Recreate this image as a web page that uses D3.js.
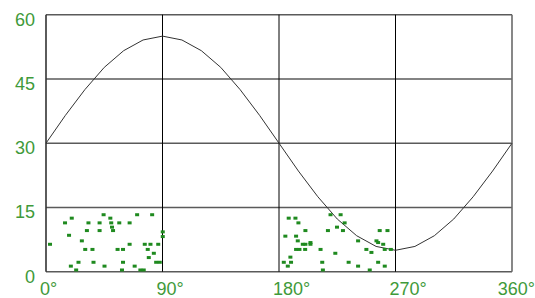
<!DOCTYPE html>
<html><head><meta charset="utf-8">
<script src="https://cdn.jsdelivr.net/npm/d3@7"></script>
<style>html,body{margin:0;padding:0;background:#fff;}svg{display:block;}</style>
</head><body>
<script>
// ---- data ----
const xTicks = [0, 90, 180, 270, 360];
const xTickLabels = ["0°", "90°", "180°", "270°", "360°"];
const yTicks = [0, 15, 30, 45, 60];
const yTickLabels = ["0", "15", "30", "45", "60"];

const curveDeg = [0,15,30,45,60,75,90,105,120,135,150,165,180,195,210,225,240,255,270,285,300,315,330,345,360];
const curveVal = [30,36.5,42.5,47.7,51.6,54.1,55,54.1,51.6,47.7,42.5,36.5,30,23.5,17.5,12.3,8.4,5.9,5,5.9,8.4,12.3,17.5,23.5,30];

const dotDeg = [3.1,14.7,19.9,17.8,27.7,30.3,35.9,32.8,31.6,41.4,41.4,44.5,49.7,50.4,51.0,51.8,56.6,64.6,70.4,82.0,55.3,59.5,64.6,76.3,80.7,78.6,86.7,83.3,79.4,85.1,87.9,90.2,90.2,19.2,25.1,23.3,36.7,45.2,59.5,58.7,68.5,72.9,75.5,
  187.5,192.7,195.0,184.9,193.2,194.5,200.4,198.4,200.4,204.3,204.3,193.2,195.8,200.2,188.8,183.7,189.3,186.8,212.1,223.5,213.4,213.9,233.8,241.1,219.8,227.6,230.7,217.8,224.8,229.4,241.1,257.8,263.8,255.3,256.6,260.5,247.5,261.7,266.4,251.4,256.6,261.7,250.1];
const dotVal = [6.4,11.4,12.5,8.5,7.2,5.2,5.2,11.4,9.6,11.4,9.6,13.3,12.5,11.4,10.4,9.6,11.4,11.4,13.3,13.3,5.2,5.2,6.4,6.4,6.4,5.2,6.4,4.3,3.3,2.2,2.2,9.3,8.2,1.3,2.2,0.4,2.2,1.3,2.2,0.4,1.3,0.4,0.4,
  12.5,12.5,11.4,8.3,8.3,7.2,9.6,6.4,6.4,6.8,6.4,5.2,5.2,5.2,3.4,2.2,2.2,1.3,5.2,4.3,2.2,0.4,2.2,1.3,13.3,13.3,11.4,9.6,10.4,9.6,7.2,9.6,9.6,7.2,6.8,6.4,5.2,5.2,5.2,4.5,2.2,1.3,0.4];

// ---- chart ----
const W = 535, H = 298;
const svg = d3.select("body").append("svg").attr("width", W).attr("height", H);
const x = d3.scaleLinear().domain([0, 360]).range([46, 512]);
const y = d3.scaleLinear().domain([0, 60]).range([271.7, 14.7]);
const green = "#3f9a3a";

// horizontal grid lines
svg.append("g").selectAll("line").data(yTicks).join("line")
  .attr("x1", x(0)).attr("x2", x(360))
  .attr("y1", d => y(d)).attr("y2", d => y(d))
  .attr("stroke", "#5a5a5a").attr("stroke-width", 1.6);

// vertical grid lines
svg.append("g").selectAll("line").data(xTicks).join("line")
  .attr("x1", d => x(d)).attr("x2", d => x(d))
  .attr("y1", y(0)).attr("y2", y(60))
  .attr("stroke", (d, i) => (i === 0 ? "#333" : (i === xTicks.length - 1 ? "#6a6a6a" : "#000")))
  .attr("stroke-width", (d, i) => (i === 0 || i === xTicks.length - 1) ? 1.6 : 1);

// curve
const line = d3.line().x(d => x(d[0])).y(d => y(d[1]));
svg.append("path")
  .datum(curveDeg.map((d, i) => [d, curveVal[i]]))
  .attr("d", line).attr("fill", "none")
  .attr("stroke", "#333").attr("stroke-width", 1);

// dots
svg.append("g").selectAll("rect").data(dotDeg.map((d, i) => [d, dotVal[i]])).join("rect")
  .attr("x", d => x(d[0]) - 2).attr("y", d => y(d[1]) - 1.5)
  .attr("width", 4).attr("height", 3)
  .attr("fill", "#1f8a1f");

// y labels
svg.append("g").selectAll("text").data(yTicks).join("text")
  .attr("x", 35).attr("y", d => y(d) + 11)
  .attr("text-anchor", "end")
  .attr("font-family", "Liberation Sans, Arial, sans-serif")
  .attr("font-size", 18).attr("fill", green)
  .text((d, i) => yTickLabels[i]);

// x labels
svg.append("g").selectAll("text").data(xTicks).join("text")
  .attr("x", (d, i) => i === xTicks.length - 1 ? W : x(d) - 6)
  .attr("y", 295)
  .attr("text-anchor", (d, i) => i === xTicks.length - 1 ? "end" : "start")
  .attr("font-family", "Liberation Sans, Arial, sans-serif")
  .attr("font-size", 18).attr("fill", green)
  .text((d, i) => xTickLabels[i]);
</script>
</body></html>
